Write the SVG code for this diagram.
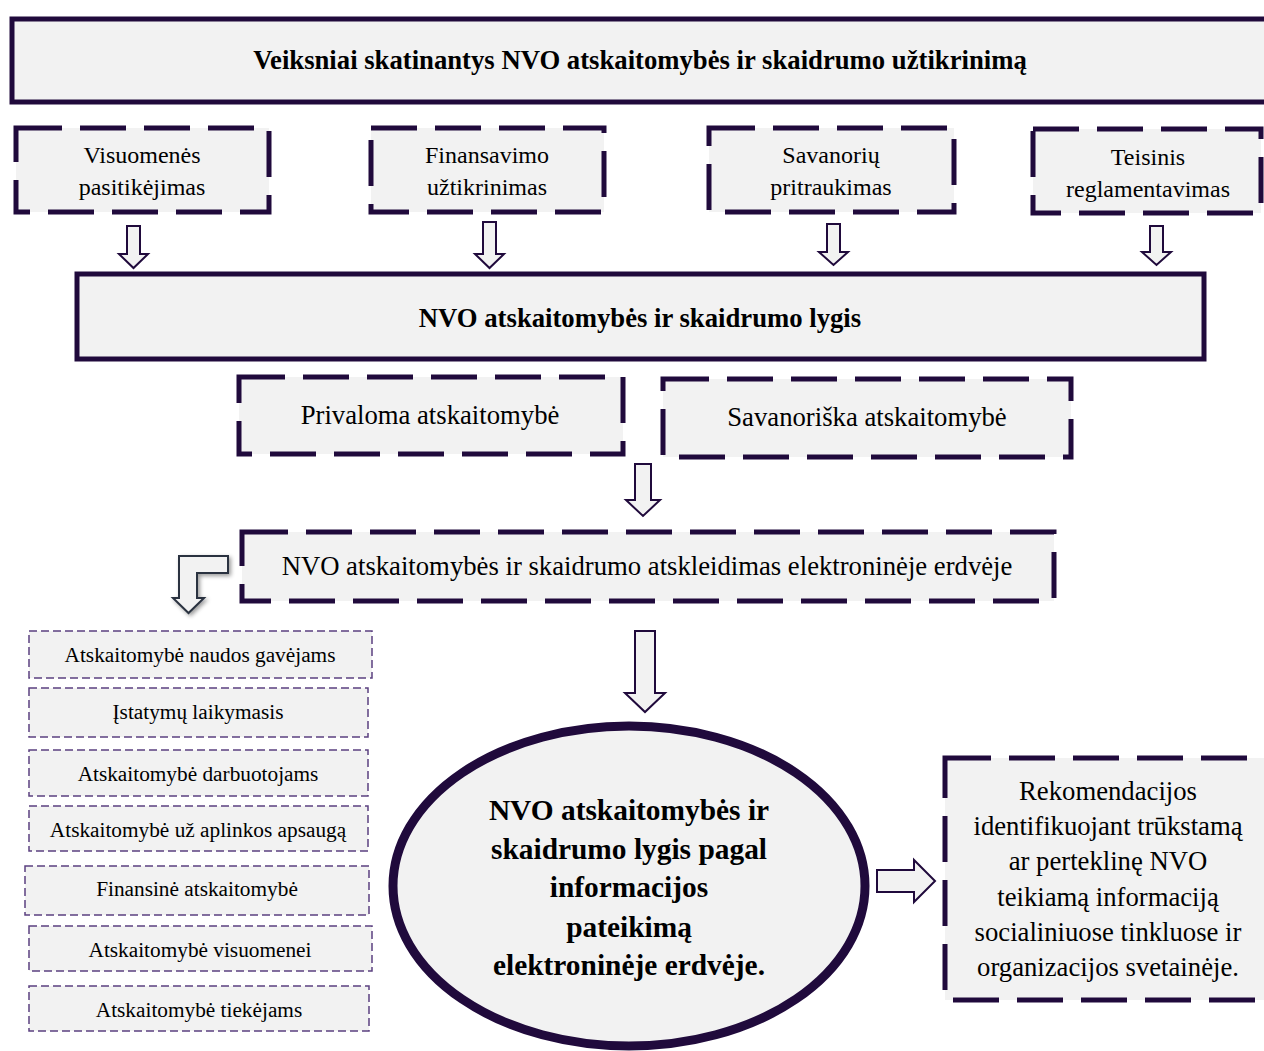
<svg xmlns="http://www.w3.org/2000/svg" width="1264" height="1051" viewBox="0 0 1264 1051">
<defs>
<style>
.solid{fill:#f2f2f2;stroke:#200a3c;stroke-width:5}
.dash{fill:#f2f2f2;stroke:#200a3c;stroke-width:5;stroke-dasharray:46 18}
.thin{fill:#f2f2f2;stroke:#5b4080;stroke-width:1.5;stroke-dasharray:8 4}
.arr{fill:#f2f2f2;stroke:#200a3c;stroke-width:2;stroke-linejoin:miter}
text{font-family:"Liberation Serif","Times New Roman",serif;fill:#000;text-anchor:middle;dominant-baseline:central}
.b{font-weight:bold}
.t22{font-size:24px}
.t24{font-size:26.7px}
.t18{font-size:21.3px}
.e{font-weight:bold;font-size:29.4px}
</style>
<filter id="sh" x="-30%" y="-30%" width="160%" height="160%">
<feGaussianBlur in="SourceAlpha" stdDeviation="2"/>
<feOffset dx="2" dy="2"/>
<feComponentTransfer><feFuncA type="linear" slope="0.4"/></feComponentTransfer>
<feMerge><feMergeNode/><feMergeNode in="SourceGraphic"/></feMerge>
</filter>
</defs>
<rect width="1264" height="1051" fill="#fff"/>

<g id="title">
<rect class="solid" x="12" y="19" width="1256" height="83"/>
<text class="b t24" x="640" y="60">Veiksniai skatinantys NVO atskaitomybės ir skaidrumo užtikrinimą</text>
</g>

<g id="f1">
<rect class="dash" x="16" y="128" width="253" height="84"/>
<text class="t22" x="142" y="155">Visuomenės</text>
<text class="t22" x="142" y="187">pasitikėjimas</text>
</g>
<g id="f2">
<rect class="dash" x="371" y="128" width="233" height="84"/>
<text class="t22" x="487" y="155">Finansavimo</text>
<text class="t22" x="487" y="187">užtikrinimas</text>
</g>
<g id="f3">
<rect class="dash" x="709" y="128" width="245" height="84"/>
<text class="t22" x="831" y="155">Savanorių</text>
<text class="t22" x="831" y="187">pritraukimas</text>
</g>
<g id="f4">
<rect class="dash" x="1033" y="129" width="228" height="84"/>
<text class="t22" x="1148" y="157">Teisinis</text>
<text class="t22" x="1148" y="189">reglamentavimas</text>
</g>

<g id="level">
<rect class="solid" x="77" y="274" width="1127" height="85"/>
<text class="b t24" x="640" y="318">NVO atskaitomybės ir skaidrumo lygis</text>
</g>

<g id="mandatory">
<rect class="dash" x="239" y="377" width="384" height="77"/>
<text class="t24" x="430" y="415">Privaloma atskaitomybė</text>
</g>
<g id="voluntary">
<rect class="dash" x="663" y="379" width="408" height="78"/>
<text class="t24" x="867" y="417">Savanoriška atskaitomybė</text>
</g>

<g id="electronic">
<rect class="dash" x="242" y="532" width="812" height="69"/>
<text class="t24" x="647" y="566">NVO atskaitomybės ir skaidrumo atskleidimas elektroninėje erdvėje</text>
</g>

<g id="l1"><rect class="thin" x="29" y="631" width="343" height="47"/><text class="t18" x="200" y="655">Atskaitomybė naudos gavėjams</text></g>
<g id="l2"><rect class="thin" x="29" y="688" width="339" height="49"/><text class="t18" x="198" y="712">Įstatymų laikymasis</text></g>
<g id="l3"><rect class="thin" x="29" y="750" width="339" height="46"/><text class="t18" x="198" y="774">Atskaitomybė darbuotojams</text></g>
<g id="l4"><rect class="thin" x="29" y="806" width="339" height="45"/><text class="t18" x="198" y="830">Atskaitomybė už aplinkos apsaugą</text></g>
<g id="l5"><rect class="thin" x="25" y="866" width="344" height="49"/><text class="t18" x="197" y="889">Finansinė atskaitomybė</text></g>
<g id="l6"><rect class="thin" x="29" y="926" width="343" height="45"/><text class="t18" x="200" y="950">Atskaitomybė visuomenei</text></g>
<g id="l7"><rect class="thin" x="29" y="986" width="340" height="45"/><text class="t18" x="199" y="1010">Atskaitomybė tiekėjams</text></g>

<g id="result">
<ellipse cx="629" cy="886" rx="236" ry="160" fill="#f2f2f2" stroke="#200a3c" stroke-width="9"/>
<text class="e" x="629" y="810">NVO atskaitomybės ir</text>
<text class="e" x="629" y="849">skaidrumo lygis pagal</text>
<text class="e" x="629" y="887">informacijos</text>
<text class="e" x="629" y="927">pateikimą</text>
<text class="e" x="629" y="965">elektroninėje erdvėje.</text>
</g>

<g id="recommend">
<rect class="dash" x="945" y="758" width="322" height="242"/>
<text class="t24" x="1108" y="791">Rekomendacijos</text>
<text class="t24" x="1108" y="826">identifikuojant trūkstamą</text>
<text class="t24" x="1108" y="861">ar perteklinę NVO</text>
<text class="t24" x="1108" y="897">teikiamą informaciją</text>
<text class="t24" x="1108" y="932">socialiniuose tinkluose ir</text>
<text class="t24" x="1108" y="967">organizacijos svetainėje.</text>
</g>

<g id="connectors">
<path class="arr" d="M127,226 H140 V254 H148 L133.5,268 L119,254 H127 Z"/>
<path class="arr" d="M483,222 H496 V254 H504 L489.5,268 L475,254 H483 Z"/>
<path class="arr" d="M827,224 H840 V252 H848 L833.5,265 L819,252 H827 Z"/>
<path class="arr" d="M1150,226 H1163 V252 H1171 L1156.5,265 L1142,252 H1150 Z"/>
<path class="arr" d="M635,464 H651 V500 H660 L643,516 L626,500 H635 Z"/>
<path class="arr" d="M635,631 H655 V693 H665 L645,712 L625,693 H635 Z"/>
<path d="M228,556 H179 V598 H173 L188.5,613 L204,598 H197 V573 H228 Z" fill="#f2f2f2" stroke="#2b3340" stroke-width="2" filter="url(#sh)"/>
<path class="arr" d="M877,870 H914 V860 L935,881 L914,902 V892 H877 Z"/>
</g>
</svg>
